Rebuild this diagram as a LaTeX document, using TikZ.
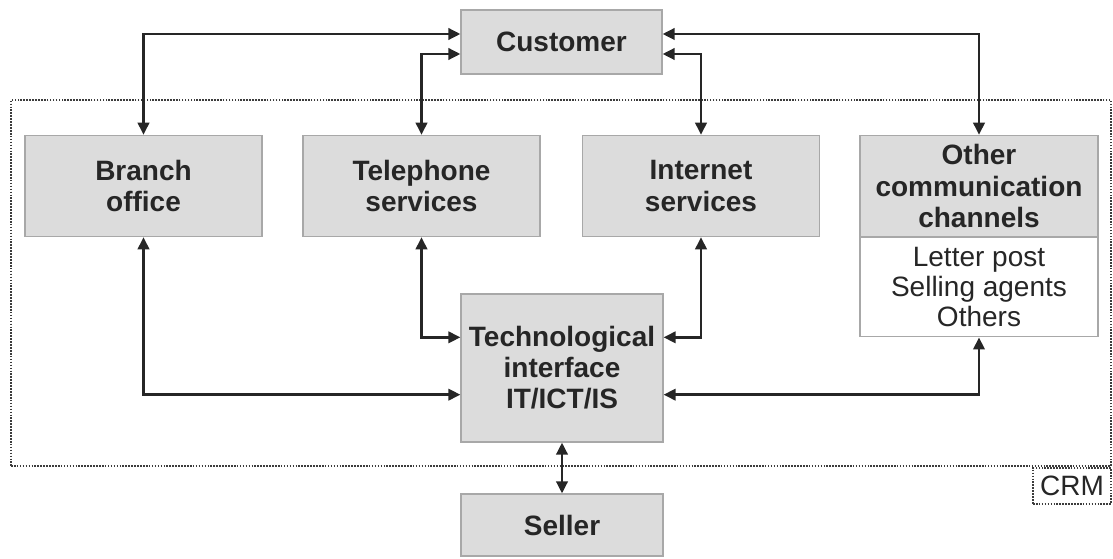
\documentclass[tikz,border=0pt]{standalone}
\usepackage{fontspec}
\setmainfont{Liberation Sans}
\usepackage{tikz}
\usetikzlibrary{arrows.meta,calc,positioning}

\definecolor{boxgray}{HTML}{DCDCDC}
\definecolor{edgegray}{HTML}{A8A8A8}
\definecolor{linedark}{HTML}{262626}

\tikzset{
  unit/.style={draw=edgegray, line width=0.9pt, fill=boxgray, align=center, inner sep=0pt,
    font=\fontsize{21}{23.3}\selectfont\bfseries, text=linedark},
  listbox/.style={draw=edgegray, line width=0.9pt, fill=white, align=center, inner sep=0pt,
    font=\fontsize{21}{22.5}\selectfont, text=linedark},
  link/.style={{Triangle[length=9pt,width=8.5pt]}-{Triangle[length=9pt,width=8.5pt]}, line width=2pt, draw=linedark},
  crmframe/.style={draw=linedark!90, dash pattern=on 1.2pt off 1pt, line width=1.6pt, inner sep=0pt}
}

\begin{document}
\begin{tikzpicture}[x=0.75pt, y=-0.75pt]
\useasboundingbox (0,0) rectangle (1113,559);

\node[crmframe, minimum width=825pt, minimum height=274.5pt] (crm) at (561,283) {};
\node[crmframe, anchor=north east, minimum width=58.5pt, minimum height=27pt,
  font=\fontsize{21}{22}\selectfont, text=linedark] (crmlabel) at (crm.south east) {CRM};

\node[unit, minimum width=150.75pt, minimum height=48pt] (customer) at (561.5,42) {Customer};

\node[unit, minimum width=177.75pt, minimum height=76pt] (branch) at (143.5,186) {Branch\\office};
\node[unit, minimum width=177.75pt, minimum height=76pt] (phone) at (421.5,186) {Telephone\\services};
\node[unit, minimum width=177.75pt, minimum height=76pt] (web) at (701,186) {Internet\\services};
\node[unit, minimum width=178.5pt, minimum height=76pt] (other) at (979,186) {Other\\communication\\channels};
\node[listbox, minimum width=178.5pt, minimum height=74.25pt, below=0pt of other] (otherlist)
  {Letter post\\Selling agents\\Others};

\node[unit, minimum width=151.5pt, minimum height=111pt] (tech) at (562,368) {Technological\\interface\\IT/ICT/IS};
\node[unit, minimum width=151.5pt, minimum height=46.5pt] (seller) at (562,525) {Seller};

\draw[link] ([yshift=6pt]customer.west) -| (branch.north);
\draw[link] ([yshift=-9pt]customer.west) -| (phone.north);
\draw[link] ([yshift=-9pt]customer.east) -| (web.north);
\draw[link] ([yshift=6pt]customer.east) -| (other.north);

\draw[link] (branch.south) |- ([yshift=-20pt]tech.west);
\draw[link] (phone.south) |- ([yshift=23pt]tech.west);
\draw[link] (web.south) |- ([yshift=23pt]tech.east);
\draw[link] (otherlist.south) |- ([yshift=-20pt]tech.east);

\draw[link] (tech.south) -- (seller.north);

\end{tikzpicture}
\end{document}
